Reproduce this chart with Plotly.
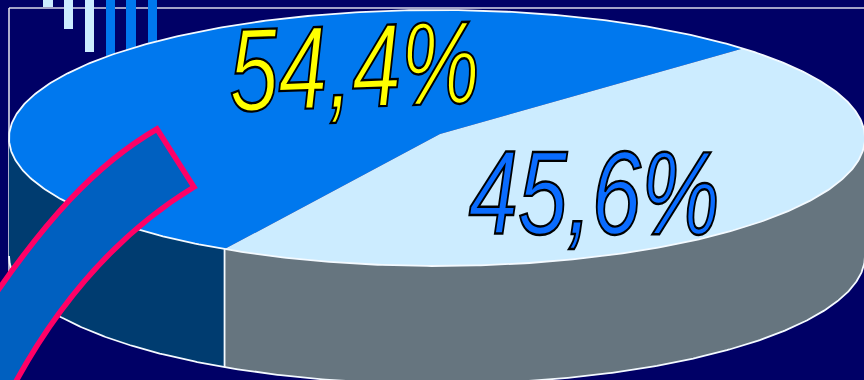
import numpy as np
import plotly.graph_objects as go

# Survey shares and their slice colours
shares = [54.4, 45.6]
top_colors = ["#0078EE", "#CCECFF"]
side_colors = ["#003C70", "#66757F"]
label_colors = ["#FFFF00", "#0A6CFF"]

BG = "#000066"
CX, CY, RX, RY = 437, 138, 428, 128
VX, VY = 440, 134
DEPTH = 118
START = 44.4


def rim(a_deg, dy=0):
    a = np.radians(a_deg)
    return CX + RX * np.cos(a), CY - RY * np.sin(a) + dy


fig = go.Figure()

# Slice edges in degrees, counter-clockwise from the start angle
edges = [START]
for s in shares:
    edges.append(edges[-1] + s * 3.6)

# Side walls: only the part of each slice facing the viewer (180-360 deg)
for i, c in enumerate(side_colors):
    lo = max(edges[i], 180)
    hi = min(edges[i + 1], 360)
    a = np.linspace(lo, hi, 200)
    xt, yt = rim(a)
    xb, yb = rim(a[::-1], DEPTH)
    fig.add_trace(go.Scatter(x=np.r_[xt, xb], y=np.r_[yt, yb], fill="toself",
                             fillcolor=c, mode="none", hoverinfo="skip"))

# Top face of each slice
for i, c in enumerate(top_colors):
    a = np.linspace(edges[i], edges[i + 1], 300)
    x, y = rim(a)
    fig.add_trace(go.Scatter(x=np.r_[VX, x, VX], y=np.r_[VY, y, VY], fill="toself",
                             fillcolor=c, mode="none", hoverinfo="skip"))

# White outlines: top rim, lower rim and the seam between the walls
a = np.linspace(0, 360, 600)
x, y = rim(a)
fig.add_trace(go.Scatter(x=x, y=y, mode="lines", line=dict(color="#F4FAFF", width=1.8), hoverinfo="skip"))
a = np.linspace(180, 360, 400)
x, y = rim(a, DEPTH)
fig.add_trace(go.Scatter(x=x, y=y, mode="lines", line=dict(color="#F4FAFF", width=1.8), hoverinfo="skip"))
sx, sy = rim(edges[1])
fig.add_trace(go.Scatter(x=[sx, sx], y=[sy, sy + DEPTH], mode="lines",
                         line=dict(color="#F4FAFF", width=1.8), hoverinfo="skip"))

shapes = []
# Frame behind the pie
shapes.append(dict(type="line", x0=9, x1=864, y0=8, y1=8, layer="below",
                   line=dict(color="#D8D8E8", width=1.5)))
shapes.append(dict(type="line", x0=9, x1=9, y0=8, y1=380, layer="below",
                   line=dict(color="#E8E8F0", width=1.5)))
# Decorative hanging bars
for x0, x1, h, c in [(43, 53, 7, "#CCECFF"), (64, 73, 29, "#CCECFF"), (85, 94, 52, "#CCECFF"),
                     (106, 115, 60, "#0078EE"), (126, 136, 60, "#0078EE"), (148, 157, 60, "#0078EE")]:
    shapes.append(dict(type="rect", x0=x0, x1=x1, y0=0, y1=h, layer="below",
                       fillcolor=c, line=dict(width=0)))
# Curved pointer band
shapes.append(dict(
    type="path", layer="above", fillcolor="#0060C0", line=dict(color="#FF0066", width=5.5),
    path="M 157,129 L 194,187 C 120,232 60,300 14,385 L -30,385 L -30,332 "
         "C 45,216 100,162 157,129 Z"))

labels = [f"{v:.1f}".replace(".", ",") + "%" for v in shares]
annotations = [
    dict(x=354, y=71, text=labels[0], textangle=-2, showarrow=False, xref="x", yref="y",
         font=dict(family="Liberation Sans", size=118, color=label_colors[0], style="italic")),
    dict(x=594, y=193, text=labels[1], textangle=0, showarrow=False, xref="x", yref="y",
         font=dict(family="Liberation Sans", size=118, color=label_colors[1], style="italic")),
]

fig.update_layout(
    width=864, height=380, margin=dict(l=0, r=0, t=0, b=0),
    paper_bgcolor=BG, plot_bgcolor=BG, showlegend=False, hovermode=False,
    xaxis=dict(range=[0, 864], visible=False, fixedrange=True),
    yaxis=dict(range=[380, 0], visible=False, fixedrange=True),
    shapes=shapes, annotations=annotations,
)

# Condense the labels horizontally, lift the upper one and give them a black outline
post = """
document.querySelectorAll('text.annotation-text').forEach(function (t, i) {
  var b = t.getBBox(), cx = b.x + b.width / 2, sx = 0.75, dy = i === 0 ? -5 : 0;
  t.setAttribute('transform', 'translate(' + cx + ',' + dy + ') scale(' + sx + ',1) translate(' + (-cx) + ',0)');
  t.style.stroke = '#000';
  t.style.strokeWidth = '2.4px';
  t.style.strokeLinejoin = 'miter';
});
"""
fig.write_html("out.html", config=dict(displayModeBar=False), post_script=post)
